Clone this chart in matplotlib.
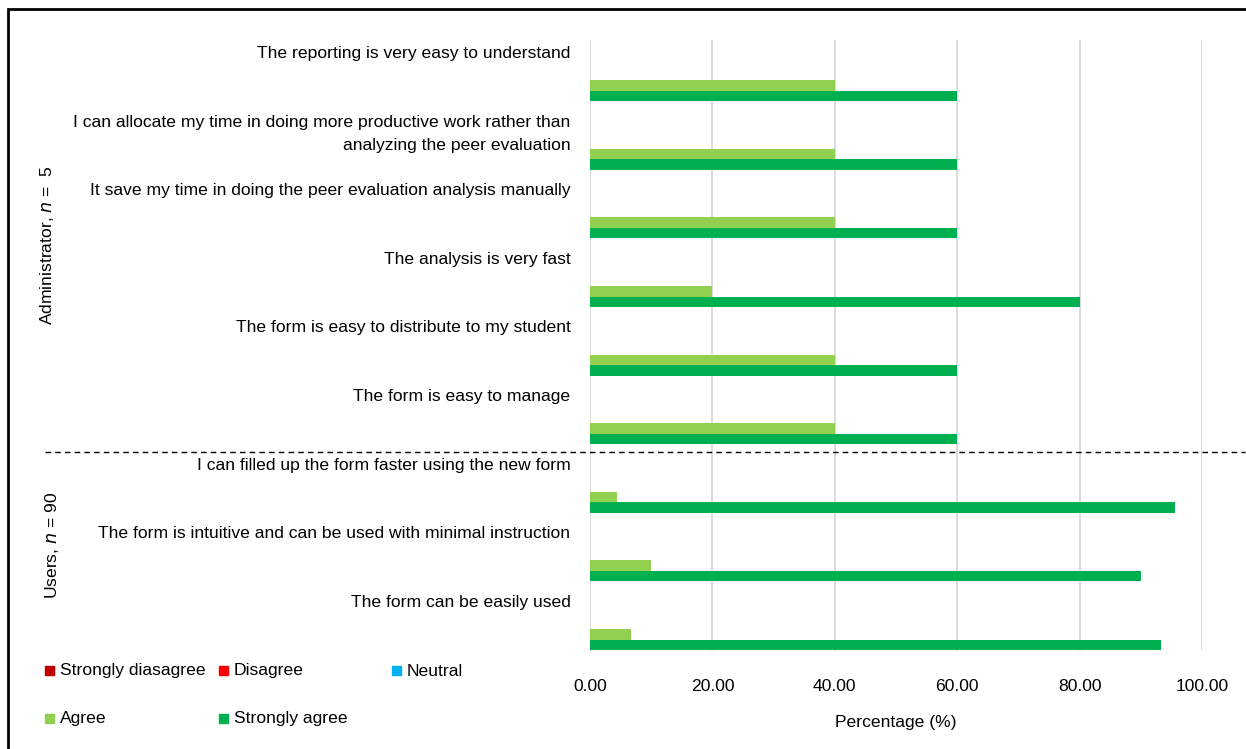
import numpy as np
import matplotlib.pyplot as plt
from matplotlib.patches import Rectangle
from matplotlib.lines import Line2D

plt.rcParams['font.family'] = ['Liberation Sans', 'DejaVu Sans']

statements = [
    "The reporting is very easy to understand",
    "I can allocate my time in doing more productive work rather than\nanalyzing the peer evaluation",
    "It save my time in doing the peer evaluation analysis manually",
    "The analysis is very fast",
    "The form is easy to distribute to my student",
    "The form is easy to manage",
    "I can filled up the form faster using the new form",
    "The form is intuitive and can be used with minimal instruction",
    "The form can be easily used",
]
strongly_disagree = [0, 0, 0, 0, 0, 0, 0, 0, 0]
disagree = [0, 0, 0, 0, 0, 0, 0, 0, 0]
neutral = [0, 0, 0, 0, 0, 0, 0, 0, 0]
agree = [40, 40, 40, 20, 40, 40, 4.44, 10.0, 6.67]
strongly_agree = [60, 60, 60, 80, 60, 60, 95.56, 90.0, 93.33]

series_names = ["Strongly diasagree", "Disagree", "Neutral", "Agree", "Strongly agree"]
series_vals = [strongly_disagree, disagree, neutral, agree, strongly_agree]
colors = ["#C00000", "#FF0000", "#00B0F0", "#92D050", "#00B050"]

W, H = 1246, 749
fs = 12.6
fig = plt.figure(figsize=(W / 100, H / 100), dpi=100)

# plot area in pixels: x 590..1202, y 40..651
ax = fig.add_axes([590 / W, 1 - 651 / H, (1202 - 590) / W, (651 - 40) / H])

pitch = 68.6
bh = 10.5 / pitch
y = np.arange(len(statements))
offsets = [-4, -3, -2, -1, 0]  # bottom bar of each group is "Strongly agree"
for vals, off, c in zip(series_vals, offsets, colors):
    ax.barh(y + off * bh, vals, height=bh, color=c, zorder=3)

ax.set_xlim(0, 100)
ax.set_ylim((651 - 96) / pitch, (40 - 96) / pitch)
ax.set_xticks(np.arange(0, 101, 20))
ax.set_xticklabels([f"{v:.2f}" for v in np.arange(0, 101, 20)], fontsize=fs)
ax.tick_params(axis='x', length=0, pad=20)
ax.set_yticks([])
ax.xaxis.grid(True, color="#D9D9D9", linewidth=1.3)
for s in ax.spines.values():
    s.set_visible(False)
ax.set_xlabel("Percentage (%)", fontsize=fs, labelpad=15)

# statement labels, top-aligned above each group of bars
for i, txt in enumerate(statements):
    ax.text(-3.2, i - 50 / pitch, txt, ha='right', va='top', fontsize=fs,
            linespacing=1.7, clip_on=False)

# separator between administrator and user groups
fig.add_artist(Line2D([45 / W, 1245 / W], [1 - 452 / H] * 2, color='black',
                      linestyle=(0, (4, 3)), linewidth=1))

fig.text(47 / W, 1 - 245 / H, "Administrator, $\\it{n}$ =  5", rotation=90,
         ha='center', va='center', fontsize=fs)
fig.text(52 / W, 1 - 545 / H, "Users, $\\it{n}$ = 90", rotation=90,
         ha='center', va='center', fontsize=fs)

# legend entries
legend_pos = [(45, 671), (219, 671), (392, 671), (45, 719), (219, 719)]
for (lx, ly), name, c in zip(legend_pos, series_names, colors):
    fig.add_artist(Rectangle((lx / W, 1 - (ly + 4) / H), 9 / W, 9 / H,
                             color=c, transform=fig.transFigure))
    fig.text((lx + 15) / W, 1 - ly / H, name, ha='left', va='center', fontsize=fs)

# outer frame
fig.add_artist(Rectangle((8 / W, -0.01), 1.1, 1 - 9 / H + 0.01, fill=False,
                         edgecolor='black', linewidth=2, transform=fig.transFigure))

fig.savefig("out.png", dpi=100)
